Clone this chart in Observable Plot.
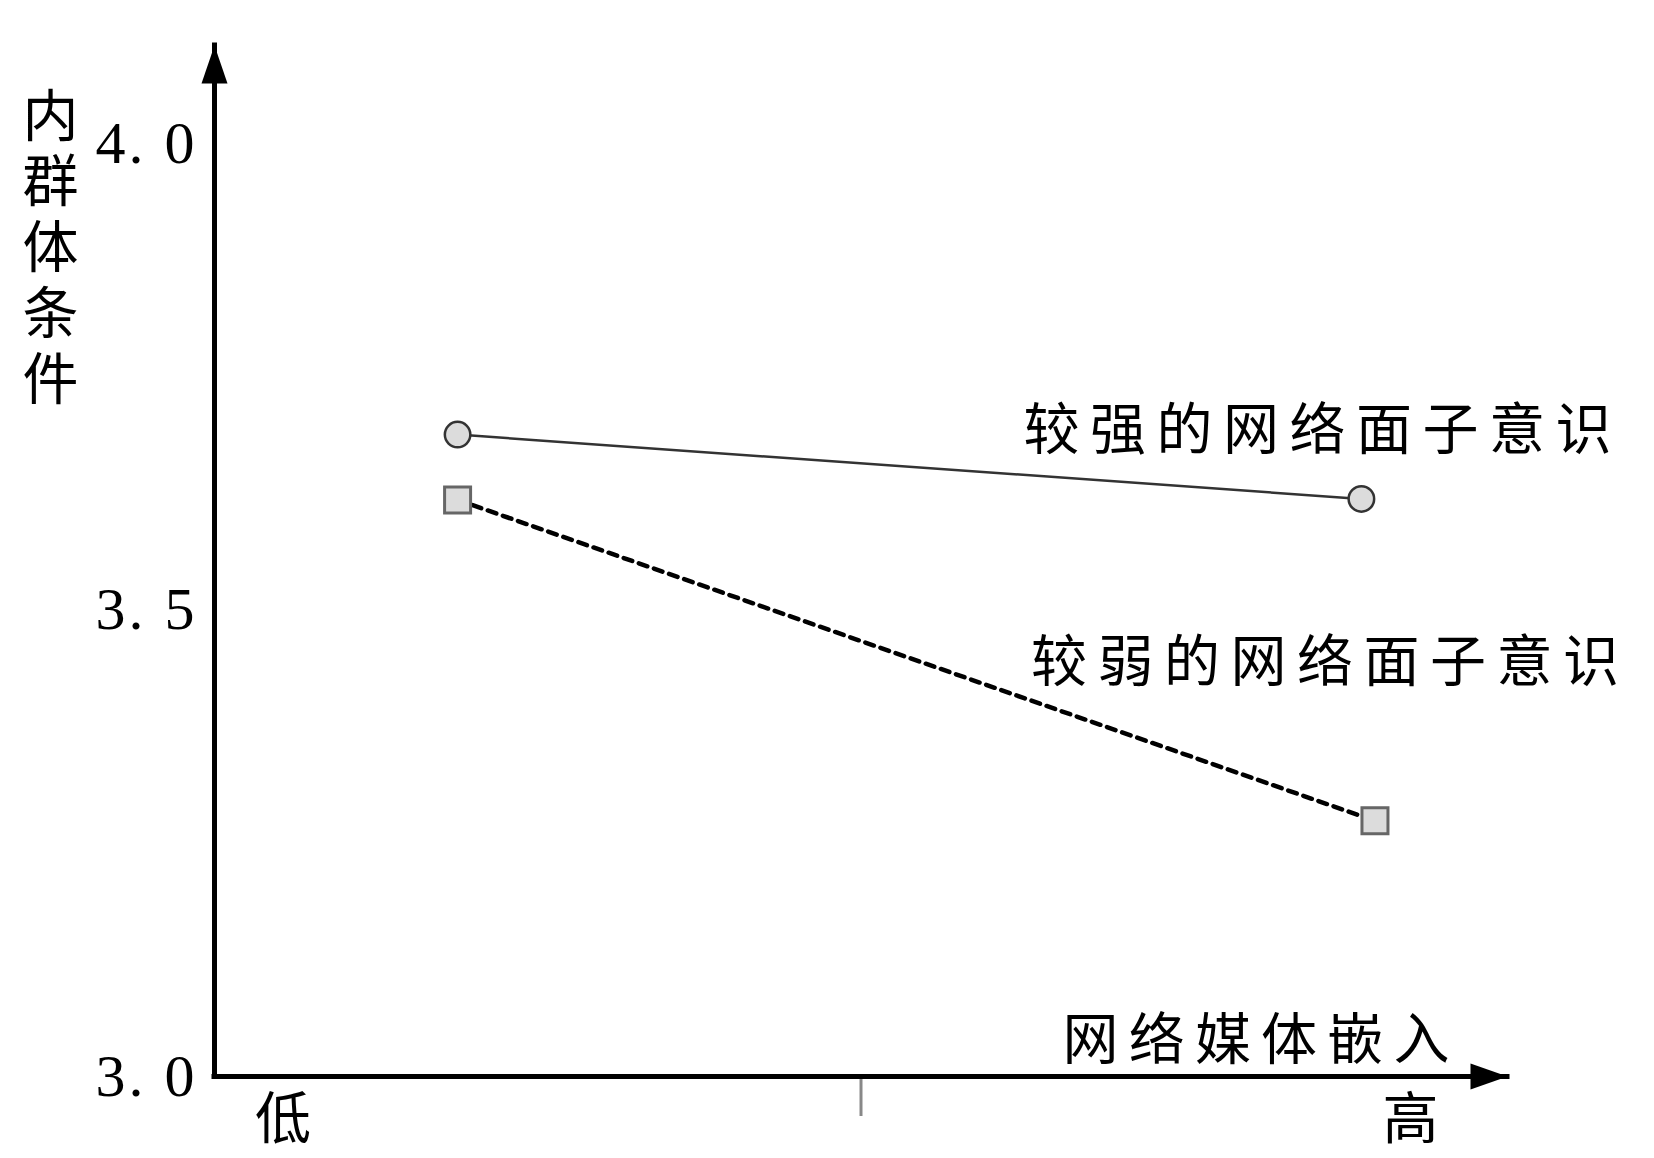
<!DOCTYPE html>
<html><head><meta charset="utf-8">
<script src="https://cdn.jsdelivr.net/npm/d3@7"></script>
<script src="https://cdn.jsdelivr.net/npm/@observablehq/plot@0.6"></script>
<style>
body{margin:0;background:#fff}
svg{display:block}
</style>
</head><body><div id="chart"></div>
<script>
// ---- data ----
const yTickValues = [3.0, 3.5, 4.0];
const yTickLabels = ["3. 0", "3. 5", "4. 0"];
const xTickValues = [5.3, 92.5];
const xTickLabels = ["低", "高"];
const xMidTick = [50];
const seriesNames = ["较强的网络面子意识", "较弱的网络面子意识"];
const strongX = [18.8, 88.7];
const strongY = [3.688, 3.619];
const weakX = [18.8, 89.75];
const weakY = [3.618, 3.274];
const yTitle = "内群体条件";
const xTitle = "网络媒体嵌入";

const strong = strongX.map((x, i) => ({x, y: strongY[i], s: seriesNames[0]}));
const weak = weakX.map((x, i) => ({x, y: weakY[i], s: seriesNames[1]}));

const CJK = "Noto Sans CJK SC";
const upArrow = {draw(ctx) { ctx.moveTo(0, 0); ctx.lineTo(13, 38); ctx.lineTo(-13, 38); ctx.closePath(); }};
const rightArrow = {draw(ctx) { ctx.moveTo(0, 0); ctx.lineTo(-37, -13); ctx.lineTo(-37, 13); ctx.closePath(); }};

const chart = Plot.plot({
  width: 1654,
  height: 1158,
  marginLeft: 214,
  marginRight: 147,
  marginTop: 45,
  marginBottom: 82,
  style: {background: "#fff", color: "#000"},
  x: {domain: [0, 100], label: null},
  y: {domain: [3, 4], range: [1076, 143], label: null},
  marks: [
    Plot.axisX(xMidTick, {tickSize: 40, stroke: "#888", strokeWidth: 3, tickFormat: () => ""}),
    Plot.ruleY([3], {stroke: "#000", strokeWidth: 5, strokeLinecap: "square"}),
    Plot.ruleX([0], {stroke: "#000", strokeWidth: 5, strokeLinecap: "square"}),
    Plot.dot([0], {frameAnchor: "top-left", symbol: upArrow, fill: "#000", stroke: "none"}),
    Plot.dot([0], {frameAnchor: "bottom-right", symbol: rightArrow, fill: "#000", stroke: "none"}),
    Plot.axisY(yTickValues, {tickSize: 0, tickPadding: 17, fontSize: 60, fontFamily: "Liberation Serif",
      tickFormat: d => yTickLabels[yTickValues.indexOf(d)]}),
    Plot.text(xTickLabels, {x: (d, i) => xTickValues[i], frameAnchor: "bottom", dy: 44, fontSize: 56,
      fontFamily: CJK, lineAnchor: "middle"}),
    Plot.text([xTitle], {frameAnchor: "bottom-right", textAnchor: "start", dx: -445, dy: -35,
      fontSize: 56, fontFamily: CJK, lineAnchor: "middle"}),
    Plot.text([yTitle], {frameAnchor: "top-left", textAnchor: "start", lineAnchor: "bottom",
      dx: -164, dy: 41, fontSize: 56, fontFamily: CJK}),
    Plot.line(strong, {x: "x", y: "y", stroke: "#333", strokeWidth: 2.5}),
    Plot.line(weak, {x: "x", y: "y", stroke: "#000", strokeWidth: 4.5, strokeDasharray: "9,7"}),
    Plot.dot(strong, {x: "x", y: "y", r: 12.75, symbol: "circle", fill: "#dcdcdc", stroke: "#333", strokeWidth: 2.5}),
    Plot.dot(weak, {x: "x", y: "y", r: 14.67, symbol: "square", fill: "#dcdcdc", stroke: "#666", strokeWidth: 3}),
    Plot.text([strong[1]], {x: "x", y: "y", text: "s", textAnchor: "start", dx: -338, dy: -67.5,
      fontSize: 56, fontFamily: CJK, lineAnchor: "middle"}),
    Plot.text([weak[1]], {x: "x", y: "y", text: "s", textAnchor: "start", dx: -344, dy: -157.5,
      fontSize: 56, fontFamily: CJK, lineAnchor: "middle"})
  ]
});

// typographic spacing, applied to the rendered text
const texts = d3.select(chart).selectAll("text");
texts.filter(function() { return seriesNames.includes(this.textContent); }).style("letter-spacing", "10.5px");
texts.filter(function() { return this.textContent === xTitle; }).style("letter-spacing", "10.2px");
texts.filter(function() { return yTickLabels.includes(this.textContent); }).style("letter-spacing", "3px");
texts.filter(function() { return this.textContent === yTitle; })
  .attr("writing-mode", "vertical-rl")
  .style("writing-mode", "vertical-rl")
  .style("letter-spacing", "9.7px");

document.getElementById("chart").appendChild(chart);
</script>
</body></html>
